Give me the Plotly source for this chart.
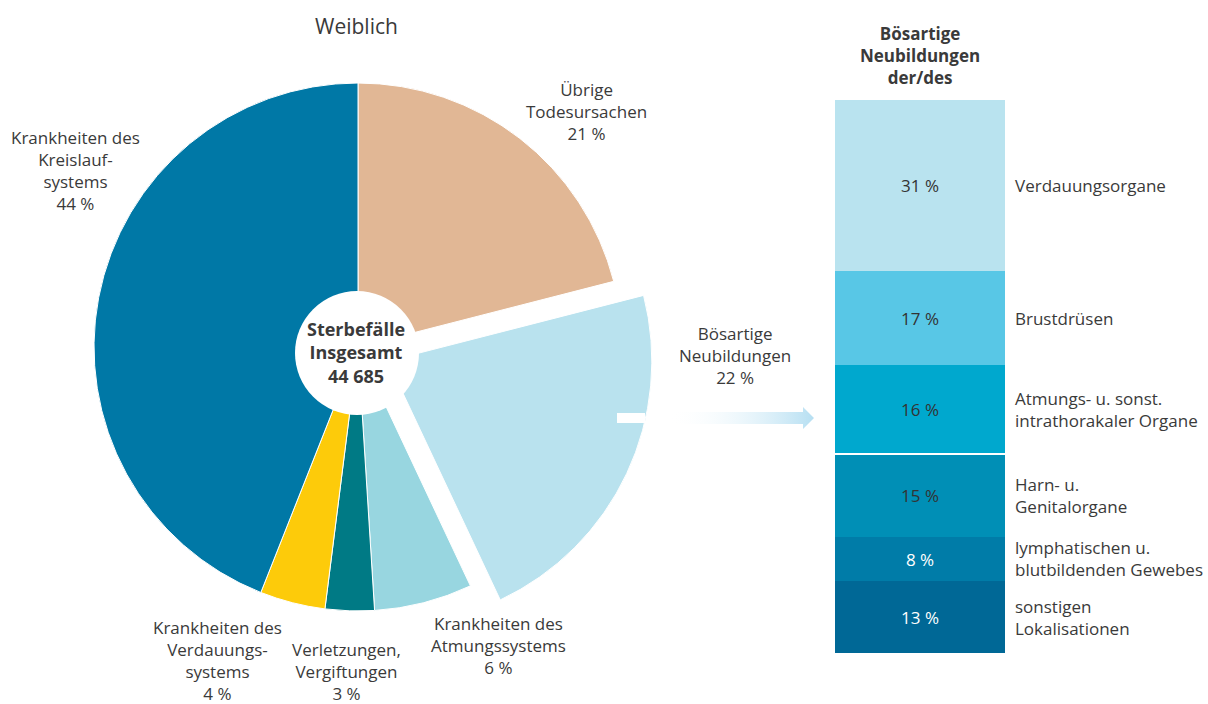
import plotly.graph_objects as go

W, H = 1208, 704

# ---------------- data ----------------
pie_labels = ["Übrige Todesursachen", "Bösartige Neubildungen", "Krankheiten des Atmungssystems",
              "Verletzungen, Vergiftungen", "Krankheiten des Verdauungssystems",
              "Krankheiten des Kreislaufsystems"]
pie_display = ["Übrige<br>Todesursachen", "Bösartige<br>Neubildungen", "Krankheiten des<br>Atmungssystems",
               "Verletzungen,<br>Vergiftungen", "Krankheiten des<br>Verdauungs-<br>systems",
               "Krankheiten des<br>Kreislauf-<br>systems"]
pie_values = [21, 22, 6, 3, 4, 44]
pie_colors = ["#E1B795", "#B9E2EE", "#98D6E0", "#007A85", "#FDCB0A", "#0078A6"]
pie_pull = [0, 0.125, 0, 0, 0, 0]
total_deaths = "44 685"

bar_labels = ["Verdauungsorgane", "Brustdrüsen", "Atmungs- u. sonst.<br>intrathorakaler Organe",
              "Harn- u.<br>Genitalorgane", "lymphatischen u.<br>blutbildenden Gewebes",
              "sonstigen<br>Lokalisationen"]
bar_values = [31, 17, 16, 15, 8, 13]
bar_colors = ["#B9E3EF", "#58C7E6", "#00A8CE", "#008FB6", "#007CA8", "#006896"]
bar_text_colors = ["#333333", "#333333", "#333333", "#333333", "#FFFFFF", "#FFFFFF"]

FONT = "Open Sans"
TXT = "#3a3a3a"

# ---------------- layout geometry (pixels) ----------------
cx, cy, R = 358, 347, 264
half = R * (1 + max(pie_pull))
pie_dom_x = [(cx - half) / W, (cx + half) / W]
pie_dom_y = [(H - cy - half) / H, (H - cy + half) / H]

fig = go.Figure()

fig.add_trace(go.Pie(
    labels=pie_labels, values=pie_values, sort=False, direction="clockwise", rotation=0,
    pull=pie_pull, hole=0, textinfo="none", hoverinfo="label+percent",
    marker=dict(colors=pie_colors, line=dict(color="white", width=1)),
    domain=dict(x=pie_dom_x, y=pie_dom_y), showlegend=False,
))

# stacked bar
for lab, v, c, tc in zip(bar_labels, bar_values, bar_colors, bar_text_colors):
    fig.add_trace(go.Bar(
        x=[0], y=[v], width=1, marker=dict(color=c, line=dict(width=0)),
        text=[f"{v} %"], textposition="inside", insidetextanchor="middle", textangle=0,
        textfont=dict(family=FONT, size=17, color=tc), constraintext="none",
        xaxis="x2", yaxis="y2", showlegend=False, name=lab.replace("<br>", " "),
    ))

# gradient arrow on pixel overlay axis
ax_x = [668, 803, 803, 814, 803, 803, 668, 668]
ax_y = [412, 412, 407, 418, 429, 424, 424, 412]
fig.add_trace(go.Scatter(
    x=ax_x, y=ax_y, mode="lines", line=dict(width=0), fill="toself",
    fillgradient=dict(type="horizontal",
                      colorscale=[[0, "rgba(255,255,255,0)"], [1, "#B6DFF2"]]),
    xaxis="x3", yaxis="y3", showlegend=False, hoverinfo="skip",
))

annotations = []
# pie labels
pie_label_pos = [(586, 111), (735, 355), (499, 645), (346, 671), (217, 660), (75, 170)]
for txt, v, (px, py) in zip(pie_display, pie_values, pie_label_pos):
    annotations.append(dict(
        text=f"{txt}<br>{v} %", x=px / W, y=1 - py / H, xref="paper", yref="paper",
        xanchor="center", yanchor="middle", align="center", showarrow=False,
        font=dict(family=FONT, size=17, color=TXT)))

# hole text
annotations.append(dict(
    text=f"<b>Sterbefälle<br>Insgesamt<br>{total_deaths}</b>", x=356 / W, y=1 - 352 / H,
    xref="paper", yref="paper", xanchor="center", yanchor="middle", align="center",
    showarrow=False, font=dict(family=FONT, size=18, color=TXT)))

# title
annotations.append(dict(text="Weiblich", x=356 / W, y=1 - 26 / H, xref="paper", yref="paper",
                        xanchor="center", yanchor="middle", showarrow=False,
                        font=dict(family=FONT, size=21, color=TXT)))
# bar header
annotations.append(dict(text="<b>Bösartige<br>Neubildungen<br>der/des</b>", x=920 / W, y=1 - 55 / H,
                        xref="paper", yref="paper", xanchor="center", yanchor="middle",
                        align="center", showarrow=False,
                        font=dict(family=FONT, size=17, color=TXT)))

# bar side labels
cum = 0
for lab, v in zip(bar_labels, bar_values):
    annotations.append(dict(text=lab, x=1013 / W, y=cum + v / 2, xref="paper", yref="y2",
                            xanchor="left", yanchor="middle", align="left", showarrow=False,
                            font=dict(family=FONT, size=17, color=TXT)))
    cum += v

sep_y = sum(bar_values[:3])
hx, hy, hr = 357, 353, 62
shapes = [
    dict(type="line", xref="x2", yref="y2", x0=-0.5, x1=0.5, y0=sep_y, y1=sep_y,
         line=dict(color="white", width=2), layer="above"),
    dict(type="rect", xref="x3", yref="y3", x0=617, x1=645, y0=413, y1=423,
         fillcolor="white", line=dict(width=0), layer="above"),
    dict(type="circle", xref="x3", yref="y3", x0=hx - hr, x1=hx + hr, y0=hy - hr, y1=hy + hr,
         fillcolor="white", line=dict(width=0), layer="above"),
]

fig.update_layout(
    width=W, height=H, margin=dict(l=0, r=0, t=0, b=0),
    paper_bgcolor="white", plot_bgcolor="rgba(0,0,0,0)",
    barmode="stack", bargap=0,
    xaxis2=dict(domain=[835 / W, 1005 / W], range=[-0.5, 0.5], visible=False, fixedrange=True),
    yaxis2=dict(domain=[(H - 653) / H, (H - 100) / H], range=[100, 0], visible=False,
                fixedrange=True),
    xaxis3=dict(domain=[0, 1], range=[0, W], visible=False, fixedrange=True, anchor="y3"),
    yaxis3=dict(domain=[0, 1], range=[H, 0], visible=False, fixedrange=True, anchor="x3"),
    annotations=annotations, shapes=shapes,
    font=dict(family=FONT, color=TXT),
)
fig.update_layout(xaxis2_anchor="y2", yaxis2_anchor="x2")

fig.write_html("out.html", config={"displayModeBar": False},
               post_script="document.body.style.margin='0';")
